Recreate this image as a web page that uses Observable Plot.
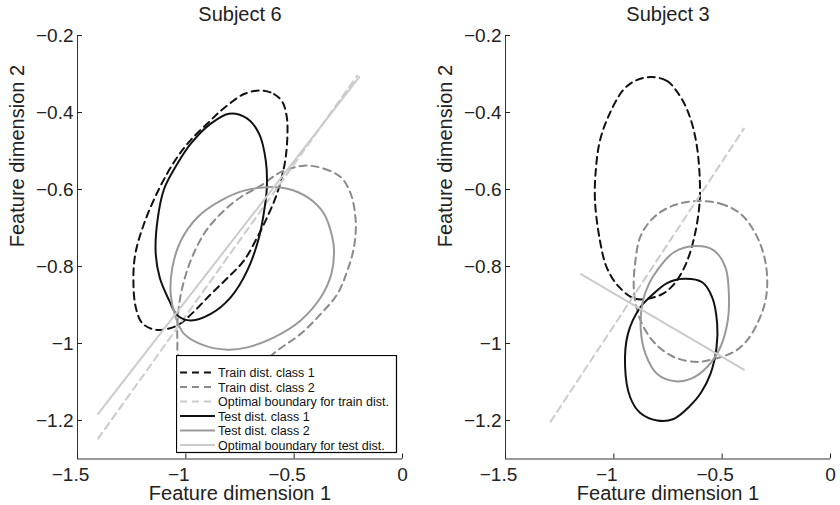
<!DOCTYPE html>
<html><head><meta charset="utf-8">
<script src="https://cdn.jsdelivr.net/npm/d3@7"></script>
<script src="https://cdn.jsdelivr.net/npm/@observablehq/plot@0.6"></script>
<style>
body{margin:0;background:#fff;}
#wrap{position:relative;width:840px;height:505px;display:flex;font-family:"Liberation Sans",Arial,Helvetica,sans-serif;}
.panel{position:relative;width:420px;height:505px;}
.panel svg{display:block;}
#legend{position:absolute;left:176px;top:355px;}
</style></head><body>
<div id="wrap"><div class="panel" id="p6"></div><div class="panel" id="p3"></div></div>
<script>
// axes
const xTicks = [-1.5, -1, -0.5, 0];
const yTicks = [-0.2, -0.4, -0.6, -0.8, -1, -1.2];
const xDomain = [-1.5, 0];
const yDomain = [-1.3, -0.2];

// Subject 6 (points read around each contour)
const s6Train1 = [[-0.654,-0.343],[-0.593,-0.352],[-0.554,-0.373],[-0.534,-0.412],[-0.531,-0.455],[-0.539,-0.516],[-0.558,-0.570],[-0.585,-0.620],[-0.623,-0.670],[-0.670,-0.724],[-0.731,-0.784],[-0.808,-0.830],[-0.885,-0.872],[-0.977,-0.925],[-1.039,-0.953],[-1.131,-0.965],[-1.200,-0.948],[-1.231,-0.906],[-1.242,-0.836],[-1.233,-0.767],[-1.193,-0.689],[-1.125,-0.600],[-1.050,-0.525],[-0.980,-0.473],[-0.890,-0.423],[-0.854,-0.403],[-0.800,-0.378],[-0.731,-0.352]];
const s6Train2 = [[-0.454,-0.538],[-0.362,-0.546],[-0.285,-0.568],[-0.239,-0.611],[-0.216,-0.681],[-0.224,-0.750],[-0.254,-0.810],[-0.300,-0.871],[-0.377,-0.923],[-0.470,-0.975],[-0.577,-1.018],[-0.680,-1.065],[-0.808,-1.096],[-0.946,-1.079],[-1.031,-1.036],[-1.039,-0.992],[-1.036,-0.923],[-1.016,-0.854],[-0.977,-0.784],[-0.916,-0.715],[-0.839,-0.663],[-0.747,-0.620],[-0.654,-0.590],[-0.562,-0.555]];
const s6TrainBoundary = [[-1.405,-1.247],[-0.208,-0.304]];
const s6Test1 = [[-0.800,-0.403],[-0.716,-0.416],[-0.662,-0.455],[-0.631,-0.525],[-0.626,-0.594],[-0.636,-0.646],[-0.662,-0.724],[-0.716,-0.810],[-0.793,-0.880],[-0.885,-0.923],[-0.977,-0.940],[-1.039,-0.927],[-1.077,-0.888],[-1.120,-0.830],[-1.139,-0.767],[-1.131,-0.681],[-1.100,-0.598],[-1.039,-0.533],[-0.977,-0.481],[-0.885,-0.429]];
const s6Test2 = [[-0.623,-0.594],[-0.531,-0.598],[-0.439,-0.620],[-0.362,-0.663],[-0.324,-0.724],[-0.316,-0.758],[-0.328,-0.819],[-0.377,-0.880],[-0.470,-0.940],[-0.593,-0.984],[-0.716,-1.010],[-0.808,-1.016],[-0.916,-1.005],[-1.008,-0.975],[-1.047,-0.932],[-1.070,-0.871],[-1.062,-0.802],[-1.023,-0.733],[-0.946,-0.672],[-0.839,-0.629],[-0.731,-0.603]];
const s6TestBoundary = [[-1.405,-1.183],[-0.200,-0.308]];

// Subject 3
const s3Train1 = [[-0.823,-0.308],[-0.755,-0.318],[-0.712,-0.343],[-0.660,-0.395],[-0.621,-0.473],[-0.603,-0.577],[-0.606,-0.646],[-0.629,-0.724],[-0.667,-0.793],[-0.721,-0.845],[-0.785,-0.874],[-0.900,-0.884],[-0.979,-0.851],[-1.033,-0.802],[-1.064,-0.733],[-1.087,-0.629],[-1.082,-0.542],[-1.064,-0.473],[-1.025,-0.410],[-0.956,-0.341],[-0.895,-0.316]];
const s3Train2 = [[-0.615,-0.630],[-0.508,-0.637],[-0.415,-0.663],[-0.346,-0.715],[-0.305,-0.776],[-0.292,-0.836],[-0.300,-0.888],[-0.331,-0.940],[-0.385,-0.992],[-0.446,-1.022],[-0.539,-1.040],[-0.615,-1.048],[-0.723,-1.035],[-0.808,-1.001],[-0.862,-0.958],[-0.894,-0.910],[-0.908,-0.854],[-0.902,-0.793],[-0.877,-0.722],[-0.815,-0.672],[-0.723,-0.641]];
const s3TrainBoundary = [[-1.292,-1.203],[-0.400,-0.442]];
const s3Test1 = [[-0.677,-0.832],[-0.592,-0.841],[-0.546,-0.880],[-0.523,-0.949],[-0.526,-1.010],[-0.554,-1.079],[-0.600,-1.130],[-0.650,-1.163],[-0.724,-1.196],[-0.800,-1.200],[-0.879,-1.180],[-0.925,-1.139],[-0.948,-1.061],[-0.935,-0.975],[-0.878,-0.906],[-0.831,-0.878],[-0.754,-0.843]];
const s3Test2 = [[-0.623,-0.747],[-0.539,-0.758],[-0.485,-0.802],[-0.469,-0.871],[-0.474,-0.940],[-0.508,-1.009],[-0.569,-1.061],[-0.646,-1.092],[-0.715,-1.098],[-0.800,-1.079],[-0.854,-1.027],[-0.876,-0.960],[-0.866,-0.890],[-0.838,-0.845],[-0.800,-0.810],[-0.723,-0.763]];
const s3TestBoundary = [[-1.152,-0.820],[-0.400,-1.068]];

const legendLabels = ["Train dist. class 1","Train dist. class 2","Optimal boundary for train dist.","Test dist. class 1","Test dist. class 2","Optimal boundary for test dist."];

const FONT = '"Liberation Sans", Arial, Helvetica, sans-serif';
const styles = [
  {stroke:"#111", dash:"7,5"},
  {stroke:"#8a8a8a", dash:"7,5"},
  {stroke:"#cbcbcb", dash:"7,5"},
  {stroke:"#111", dash:null},
  {stroke:"#999", dash:null},
  {stroke:"#cbcbcb", dash:null}
];

const fmt = d => d === 0 ? "0" : "\u2212" + String(Math.abs(d));

function curveMark(pts, st, closed) {
  return Plot.line(pts, {x: d => d[0], y: d => d[1], stroke: st.stroke, strokeWidth: 2,
    strokeDasharray: st.dash || undefined, curve: closed ? "catmull-rom-closed" : "linear"});
}

function panel(title, series, mL, mR) {
  return Plot.plot({
    width: 420, height: 505,
    marginLeft: mL, marginRight: mR, marginTop: 35, marginBottom: 46.5,
    style: {fontFamily: FONT, background: "white", overflow: "visible"},
    x: {domain: xDomain},
    y: {domain: yDomain},
    marks: [
      Plot.ruleY([yDomain[0]], {stroke: "#333", strokeWidth: 1}),
      Plot.ruleX([xDomain[0]], {stroke: "#333", strokeWidth: 1}),
      Plot.axisX({ticks: xTicks, tickFormat: () => "", tickSize: -5, color: "#222", label: null}),
      Plot.text(xTicks.filter(d => d < 0), {x: d => d, text: fmt, frameAnchor: "bottom", lineAnchor: "top", dy: 8, dx: -7, fontSize: 19, fill: "#222"}),
      Plot.text(xTicks.filter(d => d >= 0), {x: d => d, text: fmt, frameAnchor: "bottom", lineAnchor: "top", dy: 8, fontSize: 19, fill: "#222"}),
      Plot.axisY({ticks: yTicks, tickFormat: fmt, tickSize: -5, tickPadding: 9, fontSize: 19, color: "#222", label: null}),
      ...series.map((s, i) => curveMark(s, styles[i], i !== 2 && i !== 5)),
      Plot.text([title], {frameAnchor: "top", dy: -15, lineAnchor: "bottom", fontSize: 20, fill: "#222"}),
      Plot.text(["Feature dimension 1"], {frameAnchor: "bottom", dy: 41, lineAnchor: "bottom", fontSize: 20, fill: "#222"}),
      Plot.text(["Feature dimension 2"], {frameAnchor: "left", dx: -54, rotate: -90, lineAnchor: "bottom", fontSize: 20, fill: "#222"})
    ]
  });
}

document.getElementById("p6").appendChild(panel("Subject 6", [s6Train1, s6Train2, s6TrainBoundary, s6Test1, s6Test2, s6TestBoundary], 77, 18));
document.getElementById("p3").appendChild(panel("Subject 3", [s3Train1, s3Train2, s3TrainBoundary, s3Test1, s3Test2, s3TestBoundary], 85, 10));

// legend
const lg = d3.select("#p6").append("svg").attr("id", "legend").attr("width", 222).attr("height", 99);
lg.append("rect").attr("x", 0.5).attr("y", 0.5).attr("width", 220).attr("height", 97).attr("fill", "white").attr("stroke", "#000").attr("stroke-width", 1.2);
legendLabels.forEach((lab, i) => {
  const y = 17.5 + i * 14.5;
  lg.append("line").attr("x1", 4).attr("x2", 39).attr("y1", y).attr("y2", y)
    .attr("stroke", styles[i].stroke).attr("stroke-width", 2).attr("stroke-dasharray", styles[i].dash);
  lg.append("text").attr("x", 42).attr("y", y + 4.5).attr("font-size", 12.5).attr("font-family", FONT).attr("fill", "#111").text(lab);
});
</script>
</body></html>
